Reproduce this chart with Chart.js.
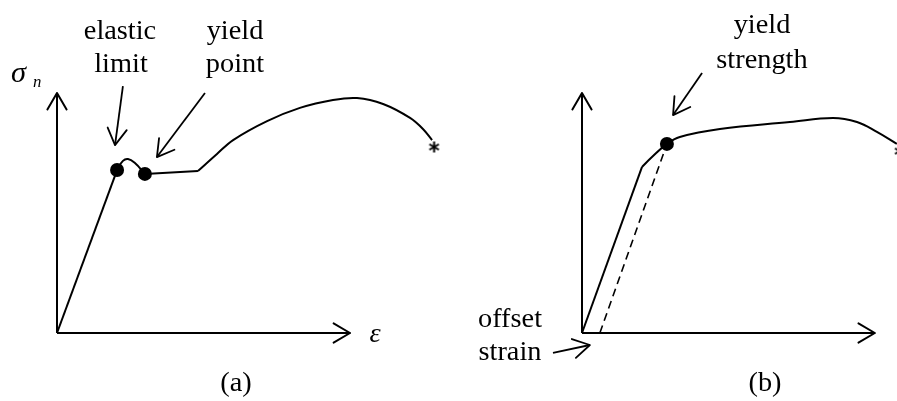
<!DOCTYPE html>
<html>
<head>
<meta charset="utf-8">
<script src="https://cdn.jsdelivr.net/npm/chart.js@4/dist/chart.umd.min.js"></script>
<style>
  html, body { margin: 0; padding: 0; background: #fff; }
  #wrap { position: relative; width: 897px; height: 401px; overflow: hidden; }
  canvas { position: absolute; top: 0; }
  #chart-a { left: 0; }
  #chart-b { left: 440px; }
</style>
</head>
<body>
<div id="wrap">
  <canvas id="chart-a" width="480" height="401"></canvas>
  <canvas id="chart-b" width="560" height="401"></canvas>
</div>
<script>
/* Stress–strain schematics: strain on x, nominal stress on y.
   Both axes are drawn from 0 to AXIS_END in arbitrary units;
   the scales run a bit wider so the curves past the axis ends still draw. */

const AXIS_END = 10;
const X_MIN = -1.5, X_MAX = 14;
const Y_MIN = 0,    Y_MAX = 10;

// ── Panel (a): distinct yield point ───────────────────────────────
const A_ELASTIC_X = [0, 2.05];
const A_ELASTIC_Y = [0, 6.79];
const A_BUMP_X    = [2.05, 2.25, 2.42, 2.66, 3.0];
const A_BUMP_Y    = [6.79, 7.17, 7.25, 7.08, 6.63];
const A_PLATEAU_X = [3.0, 4.81];
const A_PLATEAU_Y = [6.63, 6.75];
const A_HARDEN_X  = [4.81, 5.46, 6.01, 7.17, 8.29, 9.42, 10.24, 11.13, 12.05, 12.49, 12.8];
const A_HARDEN_Y  = [6.75, 7.46, 8.04, 8.83, 9.38, 9.71, 9.79, 9.54, 8.96, 8.50, 8.04];
const A_DOTS_X    = [2.05, 3.0];      // elastic limit, yield point
const A_DOTS_Y    = [6.79, 6.63];
const A_FRACTURE_X = [12.87];
const A_FRACTURE_Y = [7.75];
// annotation arrows
const A_ARROW_ELASTIC_X = [2.25, 1.98];   // head last
const A_ARROW_ELASTIC_Y = [10.29, 7.83];
const A_ARROW_YIELD_X   = [3.41, 5.05];   // head first
const A_ARROW_YIELD_Y   = [7.33, 10.0];

// ── Panel (b): offset yield strength ──────────────────────────────
const B_ELASTIC_X = [0, 2.05];
const B_ELASTIC_Y = [0, 6.92];
const B_PLASTIC_X = [2.05, 2.39, 2.90, 3.34, 4.71, 7.10, 8.57, 9.39, 10.07, 10.75];
const B_PLASTIC_Y = [6.92, 7.33, 7.88, 8.17, 8.50, 8.79, 8.96, 8.79, 8.38, 7.88];
const B_OFFSET_X  = [0.61, 2.90];
const B_OFFSET_Y  = [0, 7.88];
const B_DOT_X     = [2.90];           // yield strength
const B_DOT_Y     = [7.88];
const B_FRACTURE_X = [10.85];
const B_FRACTURE_Y = [7.58];
const B_ARROW_YS_X = [3.11, 4.10];    // head first
const B_ARROW_YS_Y = [9.08, 10.83];
const B_ARROW_OS_X = [-0.99, 0.27];   // head last
const B_ARROW_OS_Y = [-0.83, -0.5];

// ── Helpers ───────────────────────────────────────────────────────
function pts(xs, ys) { return xs.map((x, i) => ({ x, y: ys[i] })); }

function asteriskImage(size) {
  const c = document.createElement("canvas");
  c.width = c.height = size;
  const g = c.getContext("2d");
  const m = size / 2, r = size / 2 - 1;
  g.strokeStyle = "#000";
  g.lineWidth = 2;
  g.beginPath();
  for (let k = 0; k < 3; k++) {
    const a = Math.PI / 2 + k * Math.PI / 3;
    g.moveTo(m + r * Math.cos(a), m + r * Math.sin(a));
    g.lineTo(m - r * Math.cos(a), m - r * Math.sin(a));
  }
  g.stroke();
  return c;
}
const STAR = asteriskImage(13);

const SERIF = '"Liberation Serif"';
const STRETCH = 1.05;

function line(xs, ys, extra) {
  return Object.assign({
    data: pts(xs, ys), showLine: true, borderColor: "#000", borderWidth: 2,
    pointRadius: 0, tension: 0, clip: false,
  }, extra || {});
}
// headAt: "last" or "first" point of the dataset
function arrow(xs, ys, headAt, w) {
  return line(xs, ys, { borderWidth: w || 1.8, arrowHead: headAt || "last" });
}
function dots(xs, ys, r) {
  return { data: pts(xs, ys), showLine: false, pointRadius: r, backgroundColor: "#000",
           borderColor: "#000", borderWidth: 0, clip: false };
}
function star(xs, ys) {
  return { data: pts(xs, ys), showLine: false, pointStyle: STAR, pointRadius: 7, clip: false };
}
function axes() {
  return [
    arrow([0, AXIS_END], [0, 0], "last", 2),
    arrow([0, 0], [0, AXIS_END], "last", 2),
  ];
}

// ── Plugins: arrow heads and text labels ─────────────────────────
const arrowHeads = {
  id: "arrowHeads",
  afterDatasetsDraw(chart) {
    const ctx = chart.ctx;
    chart.data.datasets.forEach((ds, i) => {
      if (!ds.arrowHead) return;
      const p = chart.getDatasetMeta(i).data;
      const n = p.length;
      const [a, b] = ds.arrowHead === "first" ? [p[1], p[0]] : [p[n - 2], p[n - 1]];
      const ang = Math.atan2(b.y - a.y, b.x - a.x);
      const L = 19, spread = 0.53;
      ctx.save();
      ctx.strokeStyle = "#000";
      ctx.lineWidth = ds.borderWidth;
      ctx.lineCap = "round";
      ctx.beginPath();
      [-1, 1].forEach((s) => {
        ctx.moveTo(b.x - L * Math.cos(ang + s * spread), b.y - L * Math.sin(ang + s * spread));
        ctx.lineTo(b.x, b.y);
      });
      ctx.stroke();
      ctx.restore();
    });
  },
};

const textLabels = {
  id: "textLabels",
  afterDraw(chart, args, opts) {
    const ctx = chart.ctx;
    (opts.items || []).forEach((t) => {
      ctx.save();
      ctx.fillStyle = "#000";
      ctx.font = t.font || `27px ${SERIF}`;
      ctx.textAlign = t.align || "center";
      ctx.textBaseline = "alphabetic";
      ctx.translate(t.x, t.y);
      ctx.scale(STRETCH, 1);
      ctx.fillText(t.text, 0, 0);
      ctx.restore();
    });
  },
};

function makeChart(id, datasets, padding, labels) {
  return new Chart(document.getElementById(id), {
    type: "scatter",
    data: { datasets },
    plugins: [arrowHeads, textLabels],
    options: {
      responsive: false,
      animation: false,
      layout: { padding },
      scales: {
        x: { type: "linear", min: X_MIN, max: X_MAX, display: false },
        y: { type: "linear", min: Y_MIN, max: Y_MAX, display: false },
      },
      plugins: {
        legend: { display: false },
        tooltip: { enabled: false },
        textLabels: { items: labels },
      },
    },
  });
}

// ── Panel (a) ─────────────────────────────────────────────────────
makeChart("chart-a", [
  ...axes(),
  line(A_ELASTIC_X, A_ELASTIC_Y),
  line(A_BUMP_X, A_BUMP_Y, { tension: 0.45 }),
  line(A_PLATEAU_X, A_PLATEAU_Y),
  line(A_HARDEN_X, A_HARDEN_Y, { tension: 0.35 }),
  dots(A_DOTS_X, A_DOTS_Y, 7),
  star(A_FRACTURE_X, A_FRACTURE_Y),
  arrow(A_ARROW_ELASTIC_X, A_ARROW_ELASTIC_Y, "last"),
  arrow(A_ARROW_YIELD_X, A_ARROW_YIELD_Y, "first"),
], { left: 13.05, right: 12.8, top: 93, bottom: 68 }, [
  { text: "elastic", x: 120, y: 39 },
  { text: "limit",   x: 121, y: 72 },
  { text: "yield",   x: 235, y: 39 },
  { text: "point",   x: 235, y: 72 },
  { text: "(a)",     x: 236, y: 391 },
  { text: "ε", x: 375, y: 342, font: `italic 27px ${SERIF}` },
  { text: "σ", x: 11, y: 82, align: "left", font: `italic 29px ${SERIF}` },
  { text: "n", x: 33, y: 87, align: "left", font: `italic 16px ${SERIF}` },
]);

// ── Panel (b) ─────────────────────────────────────────────────────
makeChart("chart-b", [
  ...axes(),
  line(B_ELASTIC_X, B_ELASTIC_Y),
  line(B_PLASTIC_X, B_PLASTIC_Y, { tension: 0.4 }),
  line(B_OFFSET_X, B_OFFSET_Y, { borderWidth: 1.6, borderDash: [8, 5] }),
  dots(B_DOT_X, B_DOT_Y, 7),
  star(B_FRACTURE_X, B_FRACTURE_Y),
  arrow(B_ARROW_YS_X, B_ARROW_YS_Y, "first"),
  arrow(B_ARROW_OS_X, B_ARROW_OS_Y, "last"),
], { left: 98.05, right: 7.8, top: 93, bottom: 68 }, [
  { text: "yield",    x: 322, y: 33 },
  { text: "strength", x: 322, y: 68 },
  { text: "offset",   x: 70,  y: 327 },
  { text: "strain",   x: 70,  y: 360 },
  { text: "(b)",      x: 325, y: 391 },
]);
</script>
</body>
</html>
